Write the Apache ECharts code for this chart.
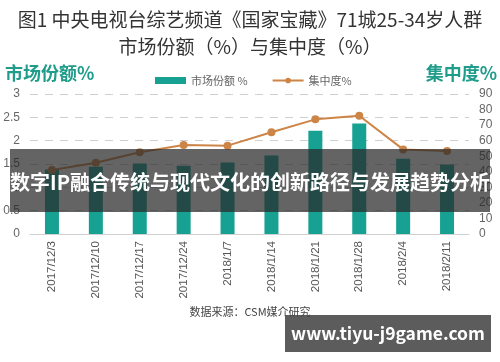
<!DOCTYPE html>
<html>
<head>
<meta charset="utf-8">
<script src="https://cdn.jsdelivr.net/npm/echarts@6/dist/echarts.min.js"></script>
<style>html,body{margin:0;padding:0;background:#fff;}#c{width:500px;height:362px;}</style>
</head>
<body>
<div id="c"></div>
<script>
var categories = ['2017/12/3','2017/12/10','2017/12/17','2017/12/24','2018/1/7','2018/1/14','2018/1/21','2018/1/28','2018/2/4','2018/2/11'];
var marketShare = [1.38, 1.44, 1.51, 1.46, 1.53, 1.68, 2.21, 2.37, 1.61, 1.49];
var concentration = [41.1, 45.8, 52.5, 57.2, 56.8, 65.4, 73.7, 76.0, 54.4, 53.3];
var leftTicks = {min: 0, max: 3, interval: 0.5};
var rightTicks = {min: 0, max: 90, interval: 10};
var titleText = '图1 中央电视台综艺频道《国家宝藏》71城25-34岁人群\n市场份额（%）与集中度（%）';
var seriesNames = ['市场份额 %', '集中度%'];
var leftAxisName = '市场份额%';
var rightAxisName = '集中度%';
var sourceText = '数据来源：CSM媒介研究';
var bannerText = '数字IP融合传统与现代文化的创新路径与发展趋势分析';
var watermarkText = 'www.tiyu-j9game.com';

var FONT = '"Noto Sans CJK SC", "Noto Sans", sans-serif';
var chart = echarts.init(document.getElementById('c'), null, {renderer: 'canvas'});
chart.setOption({
  backgroundColor: '#ffffff',
  animation: false,
  textStyle: {fontFamily: FONT},
  title: {
    text: titleText,
    left: 'center',
    top: 1,
    textStyle: {fontFamily: FONT, fontSize: 19, fontWeight: 'normal', color: '#333', lineHeight: 27, align: 'center'}
  },
  legend: {
    left: 150, top: 70,
    itemWidth: 31, itemHeight: 7, itemGap: 24,
    textStyle: {fontFamily: FONT, fontSize: 11, color: '#666'},
    data: [
      {name: seriesNames[0], icon: 'rect'},
      {name: seriesNames[1]}
    ]
  },
  grid: {left: 30, right: 31, top: 94, bottom: 128},
  xAxis: {
    type: 'category',
    data: categories,
    axisLine: {lineStyle: {color: '#d0d0d0'}},
    axisTick: {show: false},
    axisLabel: {rotate: 90, fontSize: 11.5, color: '#555', margin: 7, fontFamily: 'Liberation Sans, Arial, sans-serif'}
  },
  yAxis: [
    {
      type: 'value', min: leftTicks.min, max: leftTicks.max, interval: leftTicks.interval,
      axisLine: {show: false}, axisTick: {show: false},
      axisLabel: {fontSize: 12, color: '#666', margin: 10, fontFamily: 'Liberation Sans, Arial, sans-serif'},
      splitLine: {lineStyle: {color: '#cfcfcf', type: [8, 7], width: 1}}
    },
    {
      type: 'value', min: rightTicks.min, max: rightTicks.max, interval: rightTicks.interval,
      axisLine: {show: false}, axisTick: {show: false},
      axisLabel: {fontSize: 12, color: '#666', margin: 10, fontFamily: 'Liberation Sans, Arial, sans-serif'},
      splitLine: {show: false}
    }
  ],
  series: [
    {
      name: seriesNames[0], type: 'bar', yAxisIndex: 0, data: marketShare,
      barWidth: 14, itemStyle: {color: '#17a192'}
    },
    {
      name: seriesNames[1], type: 'line', yAxisIndex: 1, data: concentration,
      symbol: 'circle', symbolSize: 8,
      lineStyle: {color: '#cd8547', width: 2},
      itemStyle: {color: '#cd8547'}
    }
  ],
  graphic: [
    {type: 'text', left: 5, top: 64, style: {text: leftAxisName, font: 'bold 18px ' + FONT, fill: '#1f9c8a'}},
    {type: 'text', right: 3, top: 64, style: {text: rightAxisName, font: 'bold 18px ' + FONT, fill: '#1f9c8a'}},
    {type: 'text', left: 'center', top: 306, style: {text: sourceText, font: '11px ' + FONT, fill: '#444'}},
    {type: 'rect', z: 100, shape: {x: 10, y: 149, width: 480, height: 63}, style: {fill: 'rgba(40,40,40,0.72)'}},
    {type: 'text', z: 101, x: 250, y: 182, style: {text: bannerText, font: 'bold 20px ' + FONT, fill: '#ffffff', textAlign: 'center', textVerticalAlign: 'middle'}},
    {type: 'rect', z: 100, shape: {x: 285, y: 315, width: 206, height: 37}, style: {fill: 'rgba(70,70,70,0.88)'}},
    {type: 'text', z: 101, x: 388, y: 333, style: {text: watermarkText, font: 'bold 17.5px ' + FONT, fill: '#ffffff', textAlign: 'center', textVerticalAlign: 'middle'}}
  ]
});
</script>
</body>
</html>
